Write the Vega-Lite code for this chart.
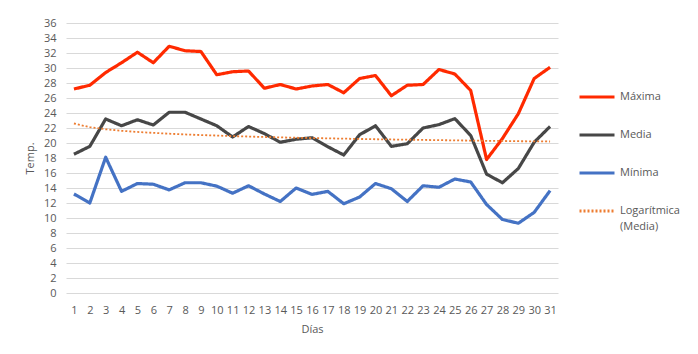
{
  "$schema": "https://vega.github.io/schema/vega-lite/v6.json",
  "width": 492,
  "height": 270,
  "autosize": {"type": "none"},
  "padding": {"left": 66, "top": 23, "right": 140, "bottom": 61},
  "background": "white",
  "config": {
    "font": "Open Sans",
    "view": {"stroke": null},
    "axis": {"labelColor": "#595959", "titleColor": "#595959", "labelFontSize": 11, "titleFontSize": 11, "titleFontWeight": "normal", "gridColor": "#d9d9d9", "domain": false, "ticks": false}
  },
  "data": {"values": [
    {"dia":1,"serie":"Máxima","temp":27.2},{"dia":2,"serie":"Máxima","temp":27.7},{"dia":3,"serie":"Máxima","temp":29.4},{"dia":4,"serie":"Máxima","temp":30.7},{"dia":5,"serie":"Máxima","temp":32.1},{"dia":6,"serie":"Máxima","temp":30.7},{"dia":7,"serie":"Máxima","temp":32.9},{"dia":8,"serie":"Máxima","temp":32.3},{"dia":9,"serie":"Máxima","temp":32.2},{"dia":10,"serie":"Máxima","temp":29.1},{"dia":11,"serie":"Máxima","temp":29.5},{"dia":12,"serie":"Máxima","temp":29.6},{"dia":13,"serie":"Máxima","temp":27.3},{"dia":14,"serie":"Máxima","temp":27.8},{"dia":15,"serie":"Máxima","temp":27.2},{"dia":16,"serie":"Máxima","temp":27.6},{"dia":17,"serie":"Máxima","temp":27.8},{"dia":18,"serie":"Máxima","temp":26.7},{"dia":19,"serie":"Máxima","temp":28.6},{"dia":20,"serie":"Máxima","temp":29.0},{"dia":21,"serie":"Máxima","temp":26.3},{"dia":22,"serie":"Máxima","temp":27.7},{"dia":23,"serie":"Máxima","temp":27.8},{"dia":24,"serie":"Máxima","temp":29.8},{"dia":25,"serie":"Máxima","temp":29.2},{"dia":26,"serie":"Máxima","temp":27.0},{"dia":27,"serie":"Máxima","temp":17.8},{"dia":28,"serie":"Máxima","temp":20.6},{"dia":29,"serie":"Máxima","temp":23.9},{"dia":30,"serie":"Máxima","temp":28.6},{"dia":31,"serie":"Máxima","temp":30.1},
    {"dia":1,"serie":"Media","temp":18.5},{"dia":2,"serie":"Media","temp":19.55},{"dia":3,"serie":"Media","temp":23.2},{"dia":4,"serie":"Media","temp":22.3},{"dia":5,"serie":"Media","temp":23.1},{"dia":6,"serie":"Media","temp":22.4},{"dia":7,"serie":"Media","temp":24.1},{"dia":8,"serie":"Media","temp":24.1},{"dia":9,"serie":"Media","temp":23.2},{"dia":10,"serie":"Media","temp":22.3},{"dia":11,"serie":"Media","temp":20.8},{"dia":12,"serie":"Media","temp":22.2},{"dia":13,"serie":"Media","temp":21.25},{"dia":14,"serie":"Media","temp":20.1},{"dia":15,"serie":"Media","temp":20.5},{"dia":16,"serie":"Media","temp":20.7},{"dia":17,"serie":"Media","temp":19.5},{"dia":18,"serie":"Media","temp":18.4},{"dia":19,"serie":"Media","temp":21.1},{"dia":20,"serie":"Media","temp":22.3},{"dia":21,"serie":"Media","temp":19.55},{"dia":22,"serie":"Media","temp":19.9},{"dia":23,"serie":"Media","temp":22.0},{"dia":24,"serie":"Media","temp":22.45},{"dia":25,"serie":"Media","temp":23.25},{"dia":26,"serie":"Media","temp":21.0},{"dia":27,"serie":"Media","temp":15.85},{"dia":28,"serie":"Media","temp":14.7},{"dia":29,"serie":"Media","temp":16.6},{"dia":30,"serie":"Media","temp":20.1},{"dia":31,"serie":"Media","temp":22.2},
    {"dia":1,"serie":"Mínima","temp":13.2},{"dia":2,"serie":"Mínima","temp":12.0},{"dia":3,"serie":"Mínima","temp":18.1},{"dia":4,"serie":"Mínima","temp":13.55},{"dia":5,"serie":"Mínima","temp":14.6},{"dia":6,"serie":"Mínima","temp":14.5},{"dia":7,"serie":"Mínima","temp":13.75},{"dia":8,"serie":"Mínima","temp":14.7},{"dia":9,"serie":"Mínima","temp":14.7},{"dia":10,"serie":"Mínima","temp":14.25},{"dia":11,"serie":"Mínima","temp":13.3},{"dia":12,"serie":"Mínima","temp":14.3},{"dia":13,"serie":"Mínima","temp":13.2},{"dia":14,"serie":"Mínima","temp":12.2},{"dia":15,"serie":"Mínima","temp":14.0},{"dia":16,"serie":"Mínima","temp":13.15},{"dia":17,"serie":"Mínima","temp":13.55},{"dia":18,"serie":"Mínima","temp":11.9},{"dia":19,"serie":"Mínima","temp":12.8},{"dia":20,"serie":"Mínima","temp":14.6},{"dia":21,"serie":"Mínima","temp":13.9},{"dia":22,"serie":"Mínima","temp":12.2},{"dia":23,"serie":"Mínima","temp":14.3},{"dia":24,"serie":"Mínima","temp":14.1},{"dia":25,"serie":"Mínima","temp":15.2},{"dia":26,"serie":"Mínima","temp":14.8},{"dia":27,"serie":"Mínima","temp":11.8},{"dia":28,"serie":"Mínima","temp":9.8},{"dia":29,"serie":"Mínima","temp":9.3},{"dia":30,"serie":"Mínima","temp":10.75},{"dia":31,"serie":"Mínima","temp":13.65},
    {"dia":1,"serie":"Logarítmica (Media)","temp":22.6},{"dia":2,"serie":"Logarítmica (Media)","temp":22.11},{"dia":3,"serie":"Logarítmica (Media)","temp":21.83},{"dia":4,"serie":"Logarítmica (Media)","temp":21.63},{"dia":5,"serie":"Logarítmica (Media)","temp":21.47},{"dia":6,"serie":"Logarítmica (Media)","temp":21.35},{"dia":7,"serie":"Logarítmica (Media)","temp":21.24},{"dia":8,"serie":"Logarítmica (Media)","temp":21.14},{"dia":9,"serie":"Logarítmica (Media)","temp":21.06},{"dia":10,"serie":"Logarítmica (Media)","temp":20.99},{"dia":11,"serie":"Logarítmica (Media)","temp":20.92},{"dia":12,"serie":"Logarítmica (Media)","temp":20.86},{"dia":13,"serie":"Logarítmica (Media)","temp":20.8},{"dia":14,"serie":"Logarítmica (Media)","temp":20.75},{"dia":15,"serie":"Logarítmica (Media)","temp":20.7},{"dia":16,"serie":"Logarítmica (Media)","temp":20.66},{"dia":17,"serie":"Logarítmica (Media)","temp":20.62},{"dia":18,"serie":"Logarítmica (Media)","temp":20.58},{"dia":19,"serie":"Logarítmica (Media)","temp":20.54},{"dia":20,"serie":"Logarítmica (Media)","temp":20.5},{"dia":21,"serie":"Logarítmica (Media)","temp":20.47},{"dia":22,"serie":"Logarítmica (Media)","temp":20.44},{"dia":23,"serie":"Logarítmica (Media)","temp":20.41},{"dia":24,"serie":"Logarítmica (Media)","temp":20.38},{"dia":25,"serie":"Logarítmica (Media)","temp":20.35},{"dia":26,"serie":"Logarítmica (Media)","temp":20.32},{"dia":27,"serie":"Logarítmica (Media)","temp":20.29},{"dia":28,"serie":"Logarítmica (Media)","temp":20.27},{"dia":29,"serie":"Logarítmica (Media)","temp":20.24},{"dia":30,"serie":"Logarítmica (Media)","temp":20.22},{"dia":31,"serie":"Logarítmica (Media)","temp":20.2}
  ]},
  "mark": {"type": "line", "strokeJoin": "round"},
  "encoding": {
    "x": {"field": "dia", "type": "ordinal", "title": "Días", "axis": {"labelAngle": 0, "grid": false, "labelPadding": 11, "titlePadding": 8}},
    "y": {"field": "temp", "type": "quantitative", "title": "Temp.", "scale": {"domain": [0, 36], "nice": false}, "axis": {"values": [0,2,4,6,8,10,12,14,16,18,20,22,24,26,28,30,32,34,36], "labelPadding": 10, "titlePadding": 8}},
    "color": {"field": "serie", "type": "nominal", "sort": ["Máxima", "Media", "Mínima", "Logarítmica (Media)"],
      "scale": {"domain": ["Máxima", "Media", "Mínima", "Logarítmica (Media)"], "range": ["#ff2a00", "#474747", "#4472c4", "#ed7d31"]},
      "legend": {"title": null, "orient": "none", "legendX": 512, "legendY": 55, "symbolType": "stroke", "symbolSize": 1225, "symbolStrokeWidth": 3, "labelFontSize": 11, "labelColor": "#595959", "rowPadding": 13, "labelOffset": 4,
        "labelExpr": "datum.label == 'Logarítmica (Media)' ? ['Logarítmica', '(Media)'] : datum.label",
        "encode": {"labels": {"update": {"lineHeight": {"value": 16}}}}}},
    "strokeDash": {"field": "serie", "type": "nominal", "sort": ["Máxima", "Media", "Mínima", "Logarítmica (Media)"],
      "scale": {"domain": ["Máxima", "Media", "Mínima", "Logarítmica (Media)"], "range": [[1, 0], [1, 0], [1, 0], [2, 2]]}, "legend": null},
    "strokeWidth": {"condition": {"test": "datum.serie === 'Logarítmica (Media)'", "value": 1.8}, "value": 3.2}
  }
}
